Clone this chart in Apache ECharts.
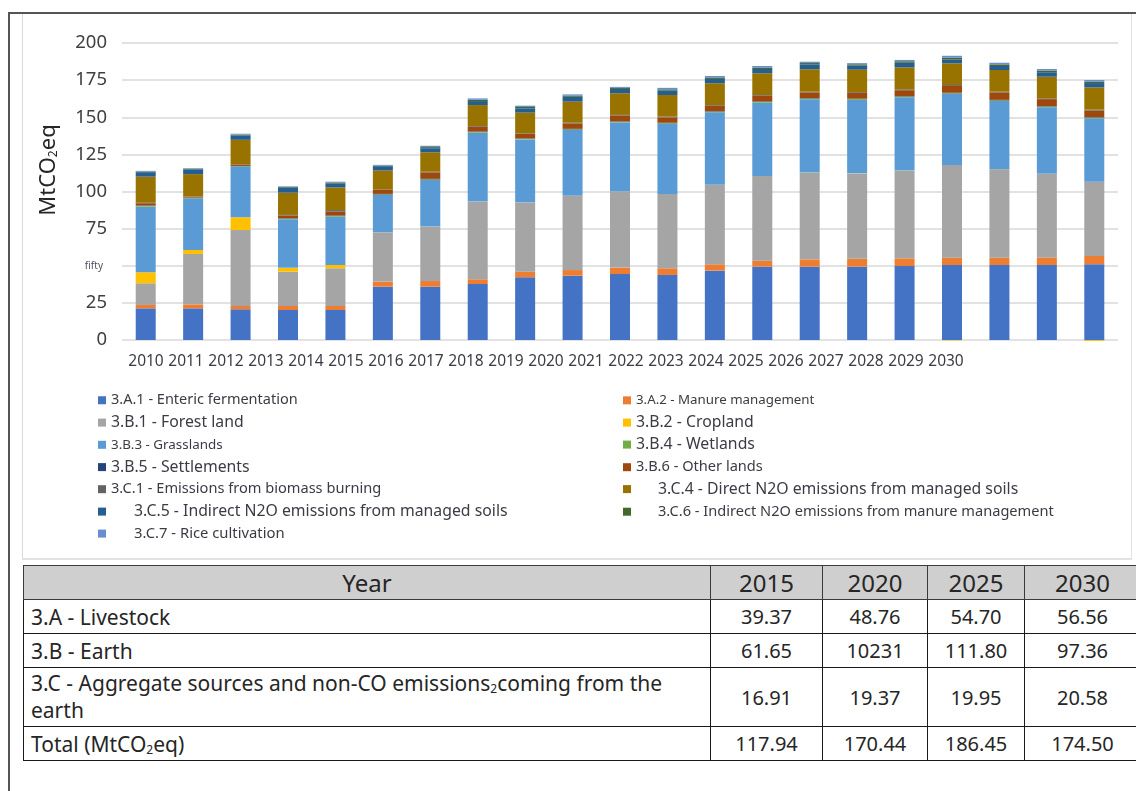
<!DOCTYPE html>
<html>
<head>
<meta charset="utf-8">
<script src="https://cdn.jsdelivr.net/npm/echarts@6/dist/echarts.min.js"></script>
<style>
  html, body { margin: 0; padding: 0; background: #fff; overflow: hidden; }
  body { width: 1136px; height: 791px; position: relative; font-family: "Noto Sans", "Open Sans", sans-serif; }
  #chart { position: absolute; left: 0; top: 0; width: 1136px; height: 791px; }
  .line { position: absolute; }
  #tbl { position: absolute; left: 23px; top: 565px; border-collapse: collapse; color: #262626; z-index: 2; background: #fff; }
  #tbl td { border: 1.5px solid #1a1a1a; padding: 0 7px; font-size: 21px; }
  #tbl tr.head td { background: #d0cfcf; font-size: 24px; text-align: center; height: 33px; border-color: #3a3a3a; }
  #tbl td.num { text-align: center; font-size: 20px; }
  #tbl sub { font-size: 12px; vertical-align: -2px; line-height: 0; }
</style>
</head>
<body>
<div id="chart"></div>
<div class="line" style="left:8px;top:12px;width:1128px;height:2px;background:#555;"></div>
<div class="line" style="left:8px;top:12px;width:2px;height:779px;background:#555;"></div>
<div class="line" style="left:22px;top:14px;width:1px;height:545px;background:#d9d9d9;"></div>
<div class="line" style="left:22px;top:558px;width:1110px;height:2px;background:#e2e2e2;"></div>
<div class="line" style="left:1131px;top:14px;width:1px;height:545px;background:#e2e2e2;"></div>
<table id="tbl"></table>
<script>
var years = ["2010", "2011", "2012", "2013", "2014", "2015", "2016", "2017", "2018", "2019", "2020",
  "2021", "2022", "2023", "2024", "2025", "2026", "2027", "2028", "2029", "2030"];

var enteric = [21.3, 21.3, 20.7, 20.2, 20.2, 35.9, 35.9, 37.7, 42.2, 43.3, 44.4, 43.8, 46.7, 49.4, 49.4, 49.4, 49.8, 50.5, 50.5, 50.5, 51.0];
var manure = [2.3, 2.7, 2.2, 2.7, 2.7, 3.47, 3.8, 3.2, 3.8, 3.8, 4.36, 4.5, 4.3, 4.0, 4.9, 5.3, 5.2, 4.9, 4.9, 5.1, 5.56];
var forest = [14.6, 33.9, 51.2, 23.1, 25.4, 33.0, 36.6, 52.2, 46.5, 49.9, 51.2, 50.0, 53.4, 57.0, 58.4, 57.5, 59.0, 62.4, 59.5, 56.2, 50.0];
var cropland = [7.4, 2.7, 8.5, 2.7, 2.2, 0.1, 0.1, 0.1, 0.1, 0.1, 0.1, 0.1, 0.1, 0.1, 0.1, 0.1, 0.1, -0.3, 0.1, 0.1, -0.6];
var grasslands = [44.2, 34.8, 34.1, 32.6, 32.5, 25.2, 31.3, 46.4, 42.5, 44.3, 46.4, 47.1, 48.8, 49.3, 49.3, 49.4, 49.3, 47.9, 45.9, 44.8, 42.7];
var wetlands = [0.5, 0.3, 0.3, 0.4, 0.5, 0.4, 0.5, 0.5, 0.4, 0.5, 0.5, 0.5, 0.5, 0.5, 0.5, 0.5, 0.5, 0.5, 0.5, 0.5, 0.5];
var settlements = [0.3, 0.2, 0.2, 0.3, 0.3, 0.3, 0.3, 0.3, 0.3, 0.3, 0.3, 0.3, 0.3, 0.3, 0.3, 0.3, 0.3, 0.3, 0.3, 0.3, 0.3];
var otherLands = [1.5, 0.7, 1.0, 1.8, 2.8, 2.65, 4.3, 3.2, 3.0, 3.6, 3.81, 3.6, 3.6, 3.9, 3.8, 4.0, 4.0, 4.6, 5.0, 4.7, 4.46];
var biomass = [0.3, 0.2, 0.3, 0.4, 0.9, 0.4, 0.5, 0.5, 0.4, 0.5, 0.5, 0.5, 0.5, 0.5, 0.5, 0.5, 0.6, 0.6, 0.5, 0.5, 0.6];
var directN2O = [17.6, 14.9, 16.3, 15.0, 15.3, 12.71, 13.1, 14.1, 13.9, 14.2, 14.6, 14.6, 14.7, 14.6, 15.1, 15.0, 14.8, 14.6, 14.6, 14.6, 15.0];
var indirectSoils = [3.0, 3.2, 2.9, 3.4, 2.7, 2.9, 2.7, 2.7, 2.9, 3.3, 2.9, 3.0, 2.9, 2.9, 3.3, 2.85, 3.1, 2.7, 2.7, 3.0, 2.9];
var indirectManure = [0.5, 0.5, 0.6, 0.5, 0.6, 0.5, 0.8, 0.9, 0.9, 0.8, 0.7, 0.8, 1.0, 1.0, 0.9, 0.8, 1.0, 1.2, 1.1, 1.1, 1.0];
var rice = [0.4, 0.3, 0.6, 0.4, 0.5, 0.4, 0.9, 0.9, 0.9, 0.8, 0.67, 1.0, 1.0, 1.0, 0.9, 0.8, 0.9, 1.2, 1.1, 1.1, 1.08];

// table
var tableYears = ["2015", "2020", "2025", "2030"];
var livestock = ["39.37", "48.76", "54.70", "56.56"];
var earth = ["61.65", "10231", "111.80", "97.36"];
var aggregate = ["16.91", "19.37", "19.95", "20.58"];
var totals = ["117.94", "170.44", "186.45", "174.50"];

// series: name, data, colour
var seriesList = [
  ["3.A.1 - Enteric fermentation", enteric, "#4472C4"],
  ["3.A.2 - Manure management", manure, "#ED7D31"],
  ["3.B.1 - Forest land", forest, "#A5A5A5"],
  ["3.B.2 - Cropland", cropland, "#FFC000"],
  ["3.B.3 - Grasslands", grasslands, "#5B9BD5"],
  ["3.B.4 - Wetlands", wetlands, "#70AD47"],
  ["3.B.5 - Settlements", settlements, "#264478"],
  ["3.B.6 - Other lands", otherLands, "#9E480E"],
  ["3.C.1 - Emissions from biomass burning", biomass, "#636363"],
  ["3.C.4 - Direct N2O emissions from managed soils", directN2O, "#997300"],
  ["3.C.5 - Indirect N2O emissions from managed soils", indirectSoils, "#255E91"],
  ["3.C.6 - Indirect N2O emissions from manure management", indirectManure, "#43682B"],
  ["3.C.7 - Rice cultivation", rice, "#698ED0"]
];

// legend placement: [x, yCenter, fontSize, indent]
var legendPos = [
  [98, 400, 14.5, 0], [623, 400.5, 13.3, 0],
  [98, 422.5, 15.8, 0], [623, 422.5, 15.8, 0],
  [98, 445, 13.4, 0], [623, 444.5, 15.8, 0],
  [98, 467, 15.8, 0], [623, 467, 14.6, 0],
  [98, 489, 14.6, 0], [623, 489, 15.8, 22],
  [98, 511.5, 15.8, 23], [623, 511.5, 14.6, 22],
  [98, 533.5, 14.8, 23]
];

var legends = seriesList.map(function (s, i) {
  var p = legendPos[i];
  return {
    data: [s[0]],
    left: p[0],
    top: p[1] - p[2] / 2,
    padding: 0,
    itemWidth: 8,
    itemHeight: 8,
    itemGap: 0,
    icon: "rect",
    selectedMode: false,
    formatter: p[3] ? "{pad|}{t|{name}}" : "{t|{name}}",
    textStyle: {
      color: "#3b3b45",
      fontFamily: "Noto Sans",
      fontSize: p[2],
      rich: {
        pad: { width: p[3] },
        t: { fontSize: p[2], color: "#3b3b45", fontFamily: "Noto Sans" }
      }
    }
  };
});

var myChart = echarts.init(document.getElementById("chart"));

var option = {
  animation: false,
  backgroundColor: "transparent",
  legend: legends,
  grid: [
    { left: 122, right: 18, top: 43, height: 297 },
    { left: 126, top: 340, width: 840, height: 1 }
  ],
  xAxis: [
    {
      type: "category",
      data: years,
      gridIndex: 0,
      axisLine: { show: false },
      axisTick: { show: false },
      axisLabel: { show: false }
    },
    {
      type: "category",
      data: years,
      gridIndex: 1,
      axisLine: { show: false },
      axisTick: { show: false },
      axisLabel: { interval: 0, margin: 13, fontSize: 15.5, color: "#3b3b45", fontFamily: "Noto Sans" }
    }
  ],
  yAxis: [
    {
      type: "value",
      gridIndex: 0,
      min: 0,
      max: 200,
      interval: 25,
      axisLine: { show: false },
      axisTick: { show: false },
      splitLine: { lineStyle: { color: "#d9d9d9", width: 1.5 } },
      axisLabel: {
        margin: 15,
        color: "#404040",
        fontSize: 18.5,
        fontFamily: "Noto Sans",
        formatter: function (v) { return v === 50 ? "{s|fifty}" : String(v); },
        rich: { s: { fontSize: 10, color: "#505060", fontFamily: "Noto Sans", padding: [0, 4, 0, 0] } }
      }
    },
    { type: "value", gridIndex: 1, show: false }
  ],
  graphic: [
    {
      type: "text",
      x: 49,
      y: 170,
      rotation: Math.PI / 2,
      style: {
        text: "{m|MtCO}{s|2}{m|eq}",
        align: "center",
        verticalAlign: "middle",
        rich: {
          m: { fontSize: 22, fontFamily: "Noto Sans", fill: "#262626" },
          s: { fontSize: 12, fontFamily: "Noto Sans", fill: "#262626", padding: [9, 0, 0, 0] }
        }
      }
    }
  ],
  series: seriesList.map(function (s) {
    return {
      name: s[0],
      type: "bar",
      stack: "total",
      barWidth: 20,
      clip: false,
      itemStyle: { color: s[2] },
      data: s[1]
    };
  })
};

myChart.setOption(option);

// table below the chart
function cells(arr) {
  return arr.map(function (v) { return '<td class="num">' + v + "</td>"; }).join("");
}
var colW = [687, 112, 105, 97, 116];
var html = "<colgroup>" + colW.map(function (w) { return '<col style="width:' + w + 'px">'; }).join("") + "</colgroup>";
html += '<tr class="head"><td>Year</td>' + tableYears.map(function (y) { return "<td>" + y + "</td>"; }).join("") + "</tr>";
html += '<tr style="height:34px"><td>3.A - Livestock</td>' + cells(livestock) + "</tr>";
html += '<tr style="height:34px"><td>3.B - Earth</td>' + cells(earth) + "</tr>";
html += '<tr style="height:59px"><td style="line-height:27px">3.C - Aggregate sources and non-CO emissions<sub>2</sub>coming from the<br>earth</td>' + cells(aggregate) + "</tr>";
html += '<tr style="height:34px"><td>Total (MtCO<sub>2</sub>eq)</td>' + cells(totals) + "</tr>";
var tbl = document.getElementById("tbl");
tbl.style.tableLayout = "fixed";
tbl.style.width = colW.reduce(function (a, b) { return a + b; }, 0) + "px";
tbl.innerHTML = html;
</script>
</body>
</html>
